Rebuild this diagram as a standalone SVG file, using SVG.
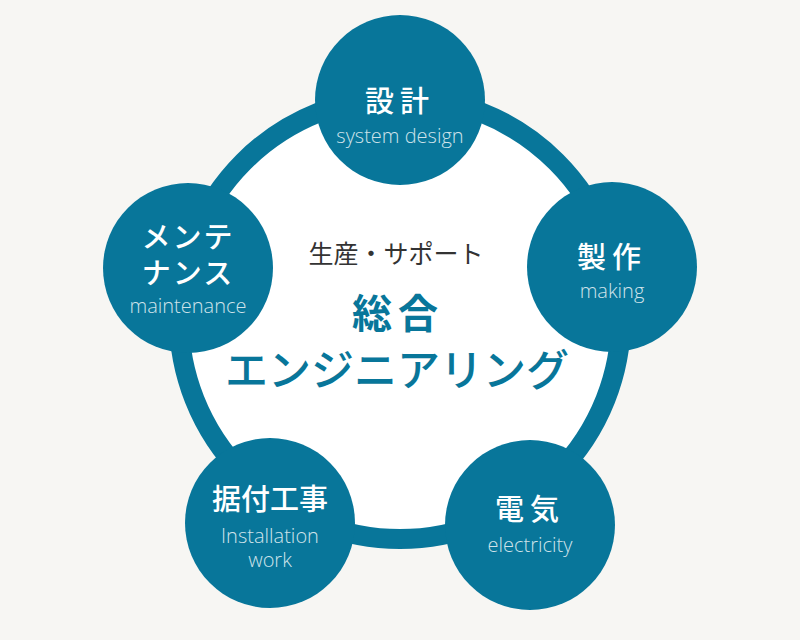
<svg xmlns="http://www.w3.org/2000/svg" width="800" height="640" viewBox="0 0 800 640">
<style>
.n{fill:#08769a}
.j{font-family:"Noto Sans CJK JP","Noto Sans",sans-serif;fill:#fff;font-size:29px;font-weight:500;text-anchor:middle}
.e{font-family:"Open Sans","Noto Sans",sans-serif;fill:#cfe3ea;font-size:20px;font-weight:300;text-anchor:middle}
.c{font-family:"Noto Sans CJK JP",sans-serif;text-anchor:middle}
</style>
<rect width="800" height="640" fill="#f7f6f3"/>
<g id="connectors"><circle cx="400" cy="318" r="221" fill="#fff" stroke="#08769a" stroke-width="20"/></g>
<g id="center">
<text class="c" x="396" y="263" font-size="25" fill="#333">生産・サポート</text>
<text class="c" x="398" y="328" font-size="40" font-weight="700" fill="#08769a" letter-spacing="6">総合</text>
<text class="c" x="397" y="386" font-size="43" font-weight="500" fill="#08769a">エンジニアリング</text>
</g>
<g id="design"><circle class="n" cx="400" cy="100" r="85"/><text class="j" x="400" y="112" letter-spacing="6">設計</text><text class="e" x="400" y="143">system design</text></g>
<g id="making"><circle class="n" cx="612" cy="267" r="85"/><text class="j" x="612" y="268" letter-spacing="6">製作</text><text class="e" x="612" y="298">making</text></g>
<g id="maintenance"><circle class="n" cx="188" cy="268" r="85"/><text class="j" x="188" y="248" letter-spacing="2">メンテ</text><text class="j" x="188" y="284" letter-spacing="2">ナンス</text><text class="e" x="188" y="313">maintenance</text></g>
<g id="install"><circle class="n" cx="270" cy="523" r="85"/><text class="j" x="270" y="510">据付工事</text><text class="e" x="270" y="543">Installation</text><text class="e" x="270" y="567">work</text></g>
<g id="electric"><circle class="n" cx="530" cy="525" r="85"/><text class="j" x="530" y="520" letter-spacing="6">電気</text><text class="e" x="530" y="552">electricity</text></g>
</svg>
